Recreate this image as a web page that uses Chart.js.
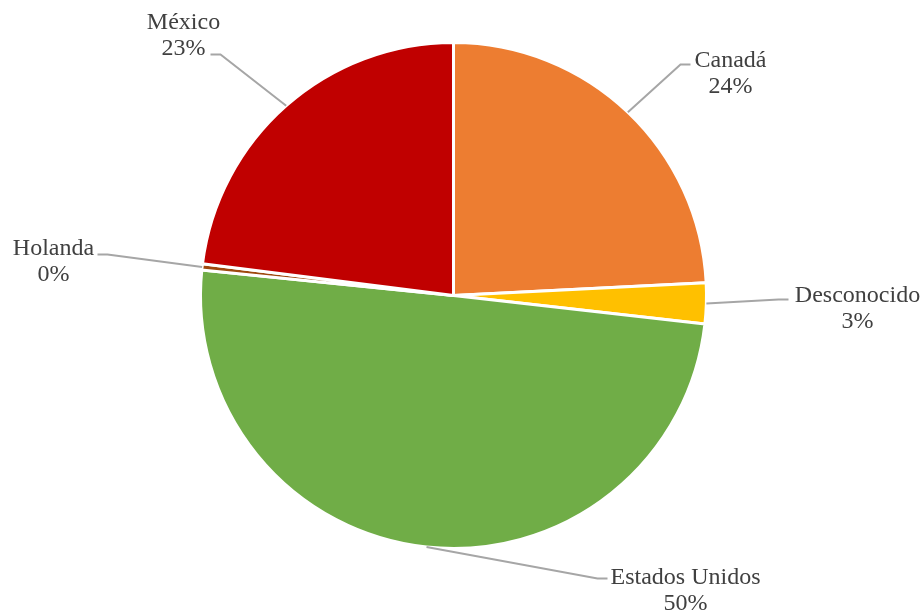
<!DOCTYPE html>
<html>
<head>
<meta charset="utf-8">
<title>Pie</title>
<script src="https://cdn.jsdelivr.net/npm/chart.js@4.4.0/dist/chart.umd.min.js"></script>
<style>
  body { margin: 0; background: #fff; }
  #pie { display: block; }
</style>
</head>
<body>
<canvas id="pie" width="923" height="616"></canvas>
<script>
// share of shipments by country (percent)
var countries = ['Canadá', 'Desconocido', 'Estados Unidos', 'Holanda', 'México'];
var shares = [24.2, 2.6, 49.8, 0.4, 23.0];
var sliceColors = ['#ED7D31', '#FFC000', '#70AD47', '#9E480E', '#C00000'];

// where each label sits, relative to the pie centre:
// tx/ty = text centre x and first baseline, ex/ey = end of the leader line
var labelSpots = [
    { tx: 277, ty: -229, ex: 237, ey: -231, dir: 1 },
    { tx: 404, ty: 6, ex: 335, ey: 4, dir: 1 },
    { tx: 232, ty: 288, ex: 154, ey: 283, dir: 1 },
    { tx: -400, ty: -41, ex: -356, ey: -41, dir: -1 },
    { tx: -270, ty: -267, ex: -243, ey: -241, dir: -1 }
];

var leaderLabels = {
    id: 'leaderLabels',
    afterDatasetsDraw: function (chart) {
        var ctx = chart.ctx;
        var meta = chart.getDatasetMeta(0);
        var values = chart.data.datasets[0].data;
        var total = values.reduce(function (a, b) { return a + b; }, 0);

        ctx.save();
        meta.data.forEach(function (arc, i) {
            var spot = labelSpots[i];
            var mid = (arc.startAngle + arc.endAngle) / 2;
            var sx = arc.x + Math.cos(mid) * arc.outerRadius;
            var sy = arc.y + Math.sin(mid) * arc.outerRadius;
            var ex = arc.x + spot.ex;
            var ey = arc.y + spot.ey;

            // leader: from the slice edge to an elbow, then a short flat run
            ctx.strokeStyle = '#A6A6A6';
            ctx.lineWidth = 2;
            ctx.beginPath();
            ctx.moveTo(sx, sy);
            ctx.lineTo(ex - spot.dir * 10, ey);
            ctx.lineTo(ex, ey);
            ctx.stroke();

            var pct = Math.round(values[i] / total * 100) + '%';
            ctx.fillStyle = '#404040';
            ctx.font = '24px "Liberation Serif", "Times New Roman", serif';
            ctx.textAlign = 'center';
            ctx.textBaseline = 'alphabetic';
            ctx.fillText(chart.data.labels[i], arc.x + spot.tx, arc.y + spot.ty);
            ctx.fillText(pct, arc.x + spot.tx, arc.y + spot.ty + 26);
        });
        ctx.restore();
    }
};

var pieChart = new Chart(document.getElementById('pie').getContext('2d'), {
    type: 'pie',
    data: {
        labels: countries,
        datasets: [{
            data: shares,
            backgroundColor: sliceColors,
            borderColor: '#FFFFFF',
            borderWidth: 3
        }]
    },
    options: {
        responsive: false,
        animation: false,
        layout: {
            padding: { left: 199, right: 215, top: 41, bottom: 66 }
        },
        plugins: {
            legend: { display: false },
            tooltip: { enabled: false }
        }
    },
    plugins: [leaderLabels]
});
</script>
</body>
</html>
